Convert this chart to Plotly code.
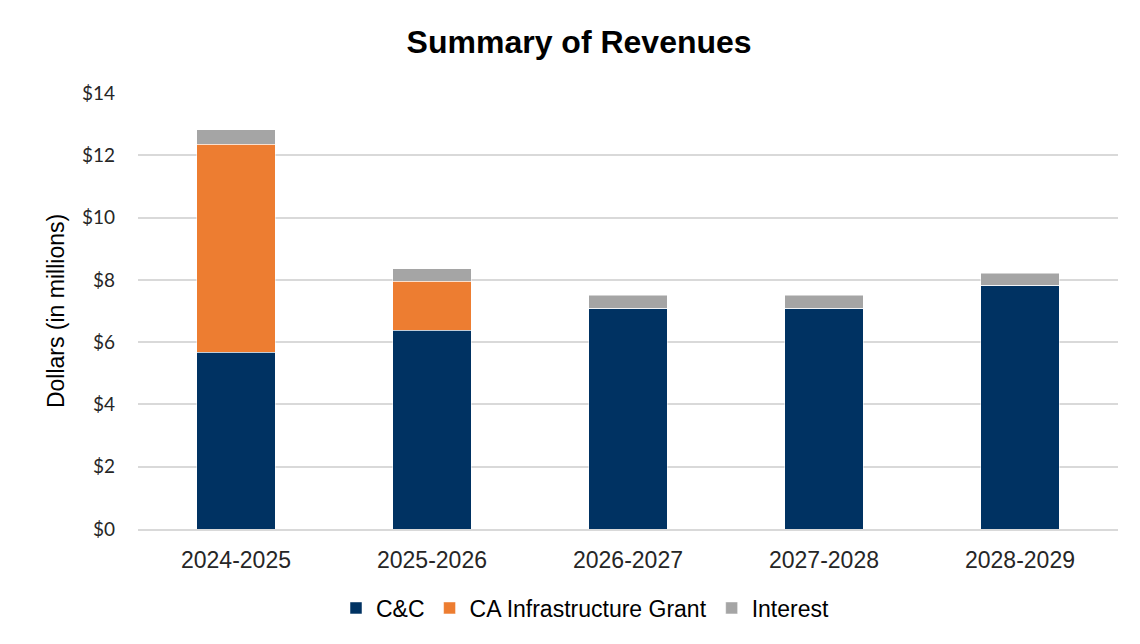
import plotly.graph_objs as go

years = ["2024-2025", "2025-2026", "2026-2027", "2027-2028", "2028-2029"]
cc = [5.68, 6.39, 7.09, 7.09, 7.82]
grant = [6.68, 1.56, 0, 0, 0]
interest = [0.46, 0.40, 0.41, 0.41, 0.40]

NAVY = "#003262"
ORANGE = "#ED7D31"
GREY = "#A5A5A5"
ARIAL = "Liberation Sans, Arial"

fig = go.Figure()
for name, vals, color in [
    ("C&C", cc, NAVY),
    ("CA Infrastructure Grant", grant, ORANGE),
    ("Interest", interest, GREY),
]:
    fig.add_trace(
        go.Bar(
            x=years,
            y=vals,
            name=name,
            marker=dict(color=color, line=dict(color="white", width=0.5)),
            width=0.4,
        )
    )

fig.update_layout(
    barmode="stack",
    width=1140,
    height=644,
    margin={"t": 93, "b": 115, "l": 138, "r": 22},
    paper_bgcolor="white",
    plot_bgcolor="white",
    title=dict(
        text="<b>Summary of Revenues</b>",
        x=0.508,
        xanchor="center",
        y=1 - 42 / 644,
        yanchor="middle",
        font=dict(family=ARIAL, size=32, color="black"),
    ),
    legend=dict(
        orientation="h",
        x=(585 - 138) / 980,
        xanchor="center",
        y=-(608 - 529) / 436,
        yanchor="middle",
        font=dict(family=ARIAL, size=23, color="black"),
        traceorder="normal",
        itemwidth=30,
    ),
    xaxis=dict(
        tickfont=dict(family=ARIAL, size=23, color="#262626"),
        showline=True,
        linecolor="#d9d9d9",
        linewidth=1.5,
        ticklabelstandoff=10,
    ),
    yaxis=dict(
        range=[0, 14],
        dtick=2,
        tickprefix="$",
        tickfont=dict(family="Lato, Open Sans", size=19, color="#262626"),
        showgrid=True,
        gridcolor="#d9d9d9",
        gridwidth=1.5,
        zeroline=False,
        ticklabelstandoff=22,
        title=dict(
            text="Dollars (in millions)",
            font=dict(family=ARIAL, size=23, color="black"),
            standoff=10,
        ),
    ),
)

fig.write_html(
    "out.html",
    config={"displayModeBar": False},
    post_script="document.body.style.margin='0';",
)
